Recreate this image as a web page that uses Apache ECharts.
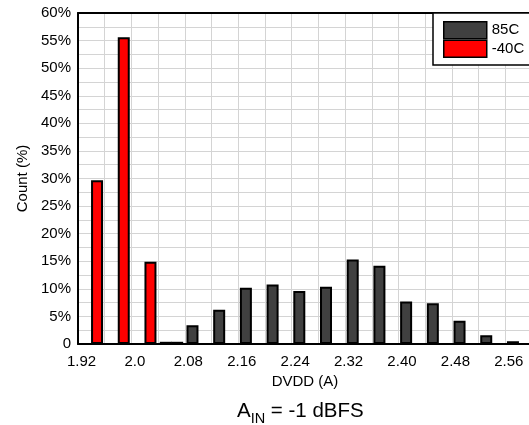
<!DOCTYPE html>
<html>
<head>
<meta charset="utf-8">
<script src="https://cdn.jsdelivr.net/npm/echarts@6/dist/echarts.min.js"></script>
<style>
html,body{margin:0;padding:0;overflow:hidden;background:#fff;}
#c{width:535px;height:425px;}
</style>
</head>
<body>
<div id="c"></div>
<script>
// Category centres (DVDD, A)
const categories = [1.94, 1.98, 2.02, 2.06, 2.10, 2.14, 2.18, 2.22, 2.26, 2.30, 2.34, 2.38, 2.42, 2.46, 2.50, 2.54, 2.58];
// Count (%) per category
const values85C  = [null, null, null, 0.4, 3.4, 6.2, 10.2, 10.8, 9.6, 10.4, 15.3, 14.2, 7.7, 7.4, 4.2, 1.6, 0.5];
const valuesM40C = [29.7, 55.6, 14.9, 0.4, null, null, null, null, null, null, null, null, null, null, null, null, null];
const seriesNames = ['85C', '-40C'];
const xTickLabels = ['1.92', '2.0', '2.08', '2.16', '2.24', '2.32', '2.40', '2.48', '2.56'];
const yTickLabels = ['0', '5%', '10%', '15%', '20%', '25%', '30%', '35%', '40%', '45%', '50%', '55%', '60%'];

const FONT = '"Liberation Sans", Arial, sans-serif';
function pairs(vals){
  const out = [];
  categories.forEach((c, i) => { if (vals[i] !== null) out.push([c, vals[i]]); });
  return out;
}
const chart = echarts.init(document.getElementById('c'), null, {renderer: 'canvas'});
const xMin = 1.92, xMax = 2.6, xStep = 0.04;
const gridCol = '#d4d4d4';
chart.setOption({
  animation: false,
  backgroundColor: '#fff',
  textStyle: {fontFamily: FONT},
  title: {
    text: '{a|A}{s|IN}{a| = -1 dBFS}',
    left: 232, top: 393,
    textStyle: {
      fontWeight: 'normal',
      rich: {
        a: {fontFamily: FONT, fontSize: 20.5, fontWeight: 'normal', lineHeight: 24, color: '#000', verticalAlign: 'bottom'},
        s: {fontFamily: FONT, fontSize: 14.5, fontWeight: 'normal', lineHeight: 14, color: '#000', verticalAlign: 'bottom', padding: [0,0,-4,0]}
      }
    }
  },
  legend: {
    data: seriesNames,
    orient: 'vertical',
    left: 433, top: 13,
    itemWidth: 43, itemHeight: 17, itemGap: 0,
    backgroundColor: '#fff',
    borderColor: '#000', borderWidth: 1.5,
    padding: [8, 20, 7, 10],
    icon: 'rect',
    itemStyle: {borderColor: '#000', borderWidth: 1.5},
    textStyle: {fontFamily: FONT, fontSize: 15, color: '#000'}
  },
  grid: {left: 78, right: 3, top: 13, bottom: 81, containLabel: false},
  xAxis: [{
    type: 'value', min: xMin, max: xMax, interval: xStep,
    position: 'bottom',
    name: 'DVDD (A)', nameLocation: 'middle', nameGap: 24,
    nameTextStyle: {fontFamily: FONT, fontSize: 15, color: '#000'},
    axisLine: {show: true, onZero: false, lineStyle: {color: '#000', width: 2}},
    axisTick: {show: false},
    splitLine: {show: true, lineStyle: {color: gridCol, width: 1}},
    axisLabel: {
      fontFamily: FONT, fontSize: 15, color: '#000', margin: 10,
      padding: [0, 0, 0, 7],
      showMinLabel: true, showMaxLabel: true,
      formatter: function (v) {
        const idx = Math.round((v - xMin) / xStep);
        if (idx % 2 !== 0) return '';
        return xTickLabels[idx / 2] || '';
      }
    }
  }, {
    type: 'value', min: xMin, max: xMax, interval: xStep,
    position: 'top',
    axisLine: {show: true, onZero: false, lineStyle: {color: '#000', width: 2}},
    axisTick: {show: false}, axisLabel: {show: false}, splitLine: {show: false}
  }],
  yAxis: {
    type: 'value', min: 0, max: 60, interval: 2.5,
    name: 'Count (%)', nameLocation: 'middle', nameGap: 47,
    nameTextStyle: {fontFamily: FONT, fontSize: 15, color: '#000'},
    axisLine: {show: true, onZero: false, lineStyle: {color: '#000', width: 2}},
    axisTick: {show: false},
    splitLine: {show: true, lineStyle: {color: gridCol, width: 1}},
    axisLabel: {
      fontFamily: FONT, fontSize: 15, color: '#000', margin: 7,
      formatter: function (v) {
        const k = Math.round(v / 2.5);
        if (k % 2 !== 0) return '';
        return yTickLabels[k / 2] || '';
      }
    }
  },
  series: [{
    name: seriesNames[0], type: 'bar', xAxisIndex: 0,
    barWidth: 12, barGap: '-5%',
    itemStyle: {color: '#404040', borderColor: '#000', borderWidth: 2},
    data: pairs(values85C)
  }, {
    name: seriesNames[1], type: 'bar', xAxisIndex: 0,
    barWidth: 12, barGap: '-5%',
    itemStyle: {color: '#ff0000', borderColor: '#000', borderWidth: 2},
    data: pairs(valuesM40C)
  }]
});
</script>
</body>
</html>
